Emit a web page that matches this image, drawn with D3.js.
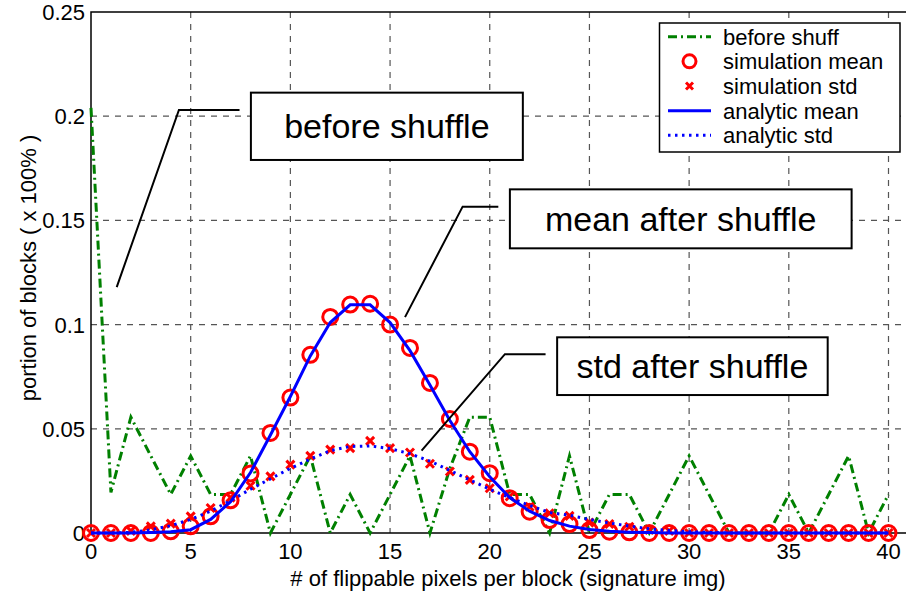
<!DOCTYPE html>
<html>
<head>
<meta charset="utf-8">
<script src="https://cdn.jsdelivr.net/npm/d3@7"></script>
<style>
  html, body { margin: 0; padding: 0; background: #fff; }
  svg { display: block; font-family: Arial, "Liberation Sans", sans-serif; }
</style>
</head>
<body>
<div id="chart"></div>
<script>
// flippable pixels per block, 0..40
const pixels = d3.range(0, 41);

const beforeShuff = [0.204, 0.0195, 0.0556, 0.037, 0.0185, 0.037, 0.0185, 0.0185, 0.037, 0, 0.0185,
  0.037, 0, 0.0185, 0, 0.0185, 0.037, 0, 0.031, 0.0556, 0.0556, 0.0185, 0.0185, 0, 0.037, 0,
  0.0185, 0.0185, 0, 0.0185, 0.037, 0.0185, 0, 0, 0, 0.0185, 0, 0.0185, 0.037, 0, 0.0185];

const simMean = [0, 0, 0, 0, 0.0008, 0.0032, 0.008, 0.0157, 0.0286, 0.048, 0.065, 0.0855, 0.1037,
  0.1096, 0.110, 0.100, 0.0888, 0.072, 0.0547, 0.039, 0.0287, 0.0167, 0.0102, 0.0062, 0.0043,
  0.0014, 0.0006, 0.0003, 0, 0, 0, 0, 0, 0, 0, 0, 0, 0, 0, 0, 0];

const simStd = [0, 0, 0.001, 0.0032, 0.0045, 0.008, 0.012, 0.017, 0.0227, 0.0272, 0.0328, 0.037,
  0.040, 0.0407, 0.0442, 0.0407, 0.0386, 0.0332, 0.0295, 0.0255, 0.0215, 0.0175, 0.0126, 0.0095,
  0.0082, 0.005, 0.0043, 0.003, 0.0015, 0.001, 0, 0, 0, 0, 0, 0, 0, 0, 0, 0, 0];

const anaMean = [0, 0, 0, 0.0002, 0.0006, 0.0016, 0.0065, 0.015, 0.029, 0.047, 0.0655, 0.085, 0.101,
  0.1095, 0.1095, 0.101, 0.0875, 0.071, 0.054, 0.039, 0.027, 0.017, 0.0105, 0.006, 0.0033, 0.0017,
  0.0008, 0.0004, 0.0002, 0, 0, 0, 0, 0, 0, 0, 0, 0, 0, 0, 0];

const anaStd = [0, 0, 0.0003, 0.0015, 0.0035, 0.0065, 0.0105, 0.0155, 0.021, 0.026, 0.031, 0.0355,
  0.0395, 0.0415, 0.0418, 0.0405, 0.038, 0.0345, 0.030, 0.0255, 0.021, 0.017, 0.0132, 0.0098,
  0.0085, 0.0065, 0.0048, 0.0033, 0.002, 0.0012, 0.0006, 0.0003, 0, 0, 0, 0, 0, 0, 0, 0, 0];

const xTicks = [0, 5, 10, 15, 20, 25, 30, 35, 40];
const yTicks = [0, 0.05, 0.1, 0.15, 0.2, 0.25];
const legendLabels = ['before shuff', 'simulation mean', 'simulation std', 'analytic mean', 'analytic std'];

// text callouts, in data units: leader polyline + box corners
const notes = [
  { text: 'before shuffle', lead: [[1.29, 0.118], [4.41, 0.203], [7.45, 0.203]], box: [8.02, 0.2113, 21.66, 0.179] },
  { text: 'mean after shuffle', lead: [[15.75, 0.1036], [18.64, 0.1566], [20.43, 0.1566]], box: [21.01, 0.1649, 38.15, 0.1366] },
  { text: 'std after shuffle', lead: [[16.58, 0.0395], [20.76, 0.0858], [22.8, 0.0858]], box: [23.38, 0.0939, 36.95, 0.0662] },
];

const width = 906, height = 596;
const green = '#008000', red = '#ff0000', blue = '#0000ff';
const fs = 22;

const svg = d3.select('#chart').append('svg')
  .attr('width', width)
  .attr('height', height);

const x = d3.scaleLinear().domain([0, 40]).range([91, 888.5]);
const y = d3.scaleLinear().domain([0, 0.25]).range([533, 12]);
const right = width + 4;

// grid
svg.append('g')
  .attr('stroke', '#555')
  .attr('stroke-width', 1.2)
  .attr('stroke-dasharray', '6,6')
  .call((g) => g.selectAll('.gx').data(xTicks.slice(1)).join('line')
    .attr('x1', (d) => x(d)).attr('x2', (d) => x(d))
    .attr('y1', y(0.25)).attr('y2', y(0)))
  .call((g) => g.selectAll('.gy').data(yTicks.slice(1, -1)).join('line')
    .attr('x1', x(0)).attr('x2', right)
    .attr('y1', (d) => y(d)).attr('y2', (d) => y(d)));

// axis frame
svg.append('path')
  .attr('fill', 'none')
  .attr('stroke', '#000')
  .attr('stroke-width', 1.5)
  .attr('d', `M${right},${y(0.25)}H${x(0)}V${y(0)}H${right}`);

// tick labels
svg.append('g')
  .attr('font-size', fs)
  .attr('text-anchor', 'middle')
  .selectAll('text')
  .data(xTicks)
  .join('text')
  .attr('x', (d) => x(d))
  .attr('y', y(0) + 26)
  .text((d) => d);

svg.append('g')
  .attr('font-size', fs)
  .attr('text-anchor', 'end')
  .selectAll('text')
  .data(yTicks)
  .join('text')
  .attr('x', x(0) - 6)
  .attr('y', (d) => y(d) + 8)
  .text((d) => d3.format('~g')(d));

svg.append('text')
  .attr('x', 508)
  .attr('y', 586)
  .attr('font-size', fs)
  .attr('text-anchor', 'middle')
  .text('# of flippable pixels per block (signature img)');

svg.append('text')
  .attr('transform', 'translate(36,268) rotate(-90)')
  .attr('font-size', fs)
  .attr('text-anchor', 'middle')
  .text('portion of blocks ( x 100% )');

const line = (vals) => d3.line().x((d, i) => x(pixels[i])).y((d) => y(d))(vals);

const plot = svg.append('g');

plot.append('path')
  .attr('d', line(beforeShuff))
  .attr('fill', 'none')
  .attr('stroke', green)
  .attr('stroke-width', 3)
  .attr('stroke-dasharray', '9,4,2,4');

plot.append('g')
  .selectAll('circle')
  .data(simMean)
  .join('circle')
  .attr('cx', (d, i) => x(pixels[i]))
  .attr('cy', (d) => y(d))
  .attr('r', 7.5)
  .attr('fill', 'none')
  .attr('stroke', red)
  .attr('stroke-width', 3);

const cross = (cx, cy, s) => `M${cx - s},${cy - s}L${cx + s},${cy + s}M${cx - s},${cy + s}L${cx + s},${cy - s}`;

plot.append('g')
  .selectAll('path')
  .data(simStd)
  .join('path')
  .attr('d', (d, i) => cross(x(pixels[i]), y(d), 4))
  .attr('stroke', red)
  .attr('stroke-width', 3);

plot.append('path')
  .attr('d', line(anaMean))
  .attr('fill', 'none')
  .attr('stroke', blue)
  .attr('stroke-width', 3);

plot.append('path')
  .attr('d', line(anaStd))
  .attr('fill', 'none')
  .attr('stroke', blue)
  .attr('stroke-width', 3)
  .attr('stroke-dasharray', '2.5,4.5');

// callouts
const note = svg.append('g').selectAll('g').data(notes).join('g');
note.append('path')
  .attr('d', (d) => d3.line().x((p) => x(p[0])).y((p) => y(p[1]))(d.lead))
  .attr('fill', 'none')
  .attr('stroke', '#000')
  .attr('stroke-width', 2);
note.append('rect')
  .attr('x', (d) => x(d.box[0]))
  .attr('y', (d) => y(d.box[1]))
  .attr('width', (d) => x(d.box[2]) - x(d.box[0]))
  .attr('height', (d) => y(d.box[3]) - y(d.box[1]))
  .attr('fill', '#fff')
  .attr('stroke', '#000')
  .attr('stroke-width', 2);
note.append('text')
  .attr('x', (d) => (x(d.box[0]) + x(d.box[2])) / 2)
  .attr('y', (d) => (y(d.box[1]) + y(d.box[3])) / 2 + 12)
  .attr('font-size', 34)
  .attr('text-anchor', 'middle')
  .text((d) => d.text);

// legend
const legend = svg.append('g');
legend.append('rect')
  .attr('x', 659.5).attr('y', 23)
  .attr('width', 240.5).attr('height', 129)
  .attr('fill', '#fff')
  .attr('stroke', '#000')
  .attr('stroke-width', 1.5);

const row = legend.selectAll('.row')
  .data(legendLabels)
  .join('g')
  .attr('transform', (d, i) => `translate(0,${36.7 + i * 24.65})`);

row.append('text')
  .attr('x', 723)
  .attr('y', 8)
  .attr('font-size', fs)
  .text((d) => d);

row.filter((d, i) => i === 0).append('line')
  .attr('x1', 668).attr('x2', 711)
  .attr('stroke', green).attr('stroke-width', 3)
  .attr('stroke-dasharray', '9,4,2,4');
row.filter((d, i) => i === 1).append('circle')
  .attr('cx', 689.5).attr('r', 6.5)
  .attr('fill', 'none').attr('stroke', red).attr('stroke-width', 3);
row.filter((d, i) => i === 2).append('path')
  .attr('d', cross(689.5, 0, 3.5))
  .attr('stroke', red).attr('stroke-width', 3);
row.filter((d, i) => i === 3).append('line')
  .attr('x1', 668).attr('x2', 711)
  .attr('stroke', blue).attr('stroke-width', 3);
row.filter((d, i) => i === 4).append('line')
  .attr('x1', 668).attr('x2', 711)
  .attr('stroke', blue).attr('stroke-width', 3)
  .attr('stroke-dasharray', '2.5,4.5');
</script>
</body>
</html>
